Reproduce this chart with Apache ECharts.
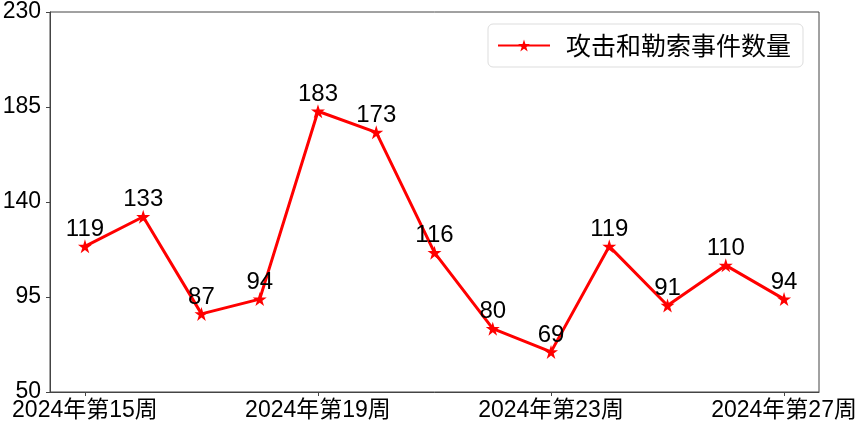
<!DOCTYPE html>
<html><head><meta charset="utf-8">
<script src="https://cdn.jsdelivr.net/npm/echarts@6/dist/echarts.min.js"></script>
<style>html,body{margin:0;padding:0;background:#fff}#c{width:863px;height:428px}</style>
</head><body><div id="c"></div>
<script>
const categories = ['2024年第15周','2024年第16周','2024年第17周','2024年第18周','2024年第19周','2024年第20周','2024年第21周','2024年第22周','2024年第23周','2024年第24周','2024年第25周','2024年第26周','2024年第27周'];
const values = [119,133,87,94,183,173,116,80,69,119,91,110,94];
const xTickIdx = [0,4,8,12];
const yTicks = [50,95,140,185,230];
const seriesName = '攻击和勒索事件数量';

const FONT = '"Liberation Sans", "Noto Sans CJK SC", sans-serif';
const star = 'path://M50,0 L61.2,34.5 L97.6,34.5 L68.2,55.9 L79.4,90.5 L50,69.1 L20.6,90.5 L31.8,55.9 L2.4,34.5 L38.8,34.5 Z';
const chart = echarts.init(document.getElementById('c'), null, {renderer:'canvas'});
chart.setOption({
  animation:false,
  backgroundColor:'#fff',
  grid:{left:50,right:44,top:12,bottom:36,show:true,borderColor:'#444',borderWidth:1,containLabel:false,outerBoundsMode:'none'},
  legend:{
    data:[seriesName], left:488, top:24, orient:'horizontal',
    padding:[9,12,9,9], itemGap:10, itemWidth:52, itemHeight:15,
    borderColor:'#ddd', borderWidth:1, borderRadius:5, backgroundColor:'#fff',
    textStyle:{fontFamily:'"Noto Sans CJK SC", sans-serif',fontSize:25,color:'#000',padding:[0,0,0,11]}
  },
  xAxis:{
    type:'value', min:-0.6, max:12.6,
    splitLine:{show:false},
    axisLine:{show:true,onZero:false,lineStyle:{color:'#444'}},
    axisTick:{show:true,length:4,lineStyle:{color:'#444'},customValues:xTickIdx},
    axisLabel:{customValues:xTickIdx,fontFamily:FONT,fontSize:23,color:'#000',margin:7,
      formatter:v=>categories[Math.round(v)]||''}
  },
  yAxis:{
    type:'value', min:50, max:230,
    splitLine:{show:false},
    axisLine:{show:true,onZero:false,lineStyle:{color:'#444'}},
    axisTick:{show:true,length:4,lineStyle:{color:'#444'},customValues:yTicks},
    axisLabel:{customValues:yTicks,fontFamily:FONT,fontSize:23,color:'#000',margin:9}
  },
  series:[{
    name:seriesName, type:'line',
    data: values.map((v,i)=>[i,v]),
    symbol:star, symbolSize:14,
    lineStyle:{color:'#ff0000',width:3},
    itemStyle:{color:'#ff0000'},
    label:{show:true,position:'top',distance:2,offset:[0,4],fontFamily:FONT,fontSize:24,color:'#000',
      formatter:p=>p.value[1]}
  }]
});
</script></body></html>
